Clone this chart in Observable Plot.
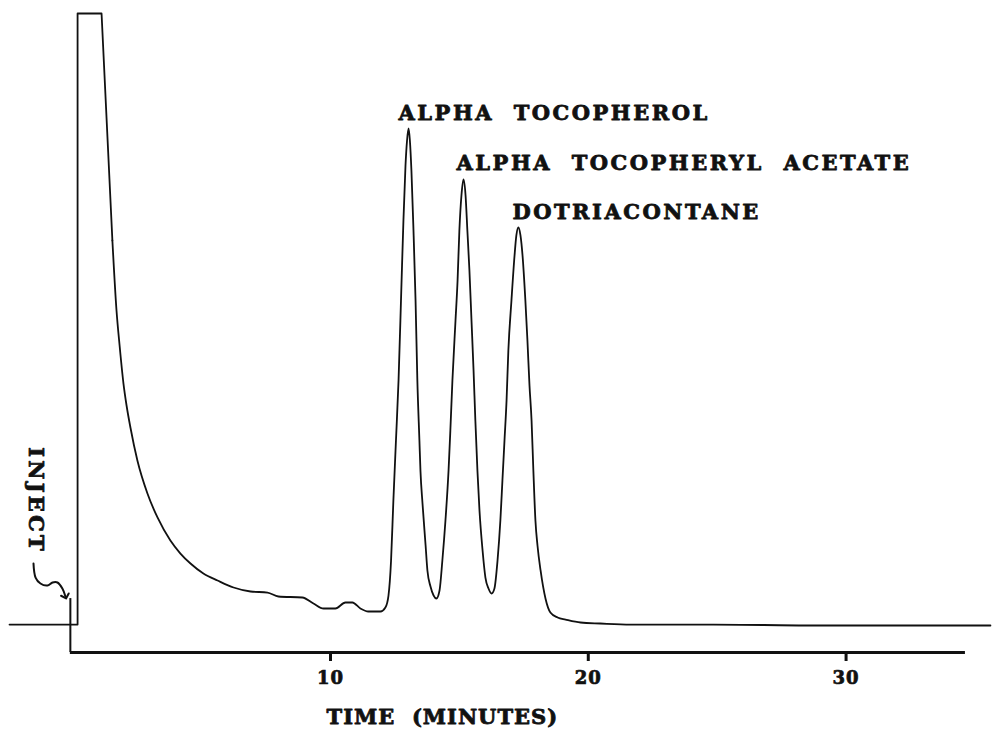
<!DOCTYPE html>
<html>
<head>
<meta charset="utf-8">
<script src="https://cdn.jsdelivr.net/npm/d3@7"></script>
<script src="https://cdn.jsdelivr.net/npm/@observablehq/plot@0.6"></script>
<style>
  html, body { margin: 0; padding: 0; background: #fff; }
  #chart svg { display: block; }
</style>
</head>
<body>
<div id="chart"></div>
<script>
// Chromatogram trace: time (minutes) and detector response (% of full scale)
const traceTime = [
  -2.45, 0.19, 0.19, 1.12, 1.54,
  1.70, 1.82, 1.97, 2.09, 2.24, 2.51, 2.90, 3.29, 3.79, 4.18, 4.57, 5.07, 5.62, 6.24,
  6.90, 7.56, 7.98, 8.91, 9.34, 9.73, 10.19, 10.58, 10.85, 11.16, 11.47, 11.94, 12.13,
  12.25, 12.35, 12.44, 12.54, 12.64, 12.75, 12.83, 12.91, 12.97, 13.03,
  13.08, 13.14, 13.22, 13.30, 13.37, 13.45, 13.49, 13.57, 13.69, 13.76, 13.88, 14.00, 14.11,
  14.23, 14.34, 14.46, 14.58, 14.65, 14.73, 14.85, 14.93, 15.00, 15.08, 15.16,
  15.24, 15.31, 15.39, 15.47, 15.55, 15.62, 15.70, 15.78, 15.90, 16.01, 16.13, 16.25,
  16.36, 16.48, 16.59, 16.67, 16.75, 16.83, 16.90, 17.02, 17.14, 17.21, 17.29,
  17.37, 17.45, 17.56, 17.64, 17.72, 17.80, 17.87, 17.95, 18.03, 18.15, 18.34, 18.53,
  18.81, 19.12, 19.70, 20.47, 21.64, 24.86, 28.74, 35.60
];
const traceSignal = [
  0.16, 0.16, 100, 100, 62.91,
  51.47, 45.75, 39.54, 35.95, 32.35, 26.96, 21.57, 17.65, 13.89, 11.76, 10.13, 8.50, 7.35, 6.21,
  5.56, 5.39, 4.74, 4.58, 3.59, 2.78, 2.78, 3.76, 3.76, 2.78, 2.29, 2.29, 2.94,
  4.90, 10.62, 20.43, 30.23, 40.03, 55.23, 66.18, 75.16, 79.25, 81.21,
  79.25, 74.35, 64.54, 53.11, 40.03, 30.23, 25.33, 19.93, 13.07, 8.99, 6.37, 4.90, 4.41,
  5.72, 10.62, 17.16, 25.33, 31.86, 40.03, 49.84, 56.37, 64.54, 70.26, 72.88,
  70.26, 64.54, 58.01, 49.84, 41.67, 33.50, 25.33, 18.79, 12.26, 7.84, 6.05, 5.23,
  6.05, 10.62, 17.16, 23.69, 30.23, 36.77, 44.94, 53.11, 60.46, 63.73, 65.03,
  63.73, 60.46, 53.11, 46.57, 39.22, 33.50, 25.33, 17.16, 13.07, 8.99, 4.41, 2.12,
  1.31, 0.98, 0.49, 0.33, 0.16, 0.16, 0.00, 0.00
];
const offScalePoints = 5; // baseline, injection jump, pen-limited plateau, straight fall

// Axis
const tickValues = [10, 20, 30];
const axisStart = -0.09;
const axisEnd = 34.63;
const axisSignal = -4.41;
const injectTime = -0.09;
const injectTop = 4.4;
const xTitle = "TIME\u00a0\u00a0(MINUTES)";
const xTitleTime = 14.34;
const xTitleSignal = -16.10;

// Peak labels
const peakNames = ["ALPHA\u00a0\u00a0TOCOPHEROL", "ALPHA\u00a0\u00a0TOCOPHERYL\u00a0\u00a0ACETATE", "DOTRIACONTANE"];
const peakLabelTime = [12.64, 14.89, 17.06];
const peakLabelSignal = [82.52, 74.35, 66.50];

// Inject annotation
const injectLabel = "INJECT";
const injectLabelTime = -1.44;
const injectLabelSignal = 20.42;
const arrowTime = [-1.52, -1.44, -1.25, -0.98, -0.78, -0.59, -0.40, -0.28];
const arrowSignal = [10.13, 7.84, 6.86, 6.54, 7.03, 7.03, 6.05, 4.74];

const trace = traceTime.map((t, i) => ({time: t, signal: traceSignal[i]}));
const peaks = peakNames.map((n, i) => ({name: n, time: peakLabelTime[i], signal: peakLabelSignal[i]}));
const arrow = arrowTime.map((t, i) => ({time: t, signal: arrowSignal[i]}));

const font = "'DejaVu Serif', 'Liberation Serif', serif";
const ink = "#111";
const bold = {fontWeight: "bold", fontFamily: font, fill: ink, stroke: ink, strokeWidth: 0.8};

const chart = Plot.plot({
  width: 992,
  height: 732,
  marginTop: 13,
  marginBottom: 80,
  marginLeft: 0,
  marginRight: 0,
  x: {domain: [-2.8, 35.68]},
  y: {domain: [-4.41, 100], axis: null},
  style: {background: "#fff", color: ink, fontFamily: font},
  marks: [
    Plot.ruleY([axisSignal], {x1: axisStart, x2: axisEnd, stroke: ink, strokeWidth: 3}),
    Plot.ruleX([injectTime], {y1: axisSignal, y2: injectTop, stroke: ink, strokeWidth: 2}),
    Plot.axisX(tickValues, {
      anchor: "bottom", tickSize: 9, tickPadding: 10, strokeWidth: 3,
      fontSize: 18, fontWeight: "bold", fontFamily: font, label: null, stroke: ink, fill: ink
    }),
    Plot.line(trace.slice(0, offScalePoints), {x: "time", y: "signal", curve: "linear", stroke: ink, strokeWidth: 1.8}),
    Plot.line(trace.slice(offScalePoints - 1), {x: "time", y: "signal", curve: "monotone-x", stroke: ink, strokeWidth: 1.8}),
    Plot.line(arrow, {x: "time", y: "signal", curve: "catmull-rom", stroke: ink, strokeWidth: 2, markerEnd: "arrow"}),
    Plot.text(peaks, {
      x: "time", y: "signal", text: "name", textAnchor: "start", lineAnchor: "bottom",
      fontSize: 21, ...bold
    }),
    Plot.text([injectLabel], {
      x: () => injectLabelTime, y: () => injectLabelSignal, text: (d) => d, rotate: 90,
      fontSize: 21, ...bold
    }),
    Plot.text([xTitle], {
      x: () => xTitleTime, y: () => xTitleSignal, text: (d) => d, lineAnchor: "bottom",
      fontSize: 21, ...bold
    })
  ]
});

// letter spacing of the stencilled lettering
const spacing = new Map([
  ...peakNames.map((n) => [n, 2.5]),
  [injectLabel, 3.2],
  [xTitle, 1],
  ...tickValues.map((v) => [String(v), 1])
]);
d3.select(chart).selectAll("text").each(function () {
  const s = spacing.get(this.textContent);
  if (s !== undefined) d3.select(this).attr("letter-spacing", s);
  if (/^\d+$/.test(this.textContent)) d3.select(this).attr("stroke", ink).attr("stroke-width", 0.7);
});

document.getElementById("chart").appendChild(chart);
</script>
</body>
</html>
